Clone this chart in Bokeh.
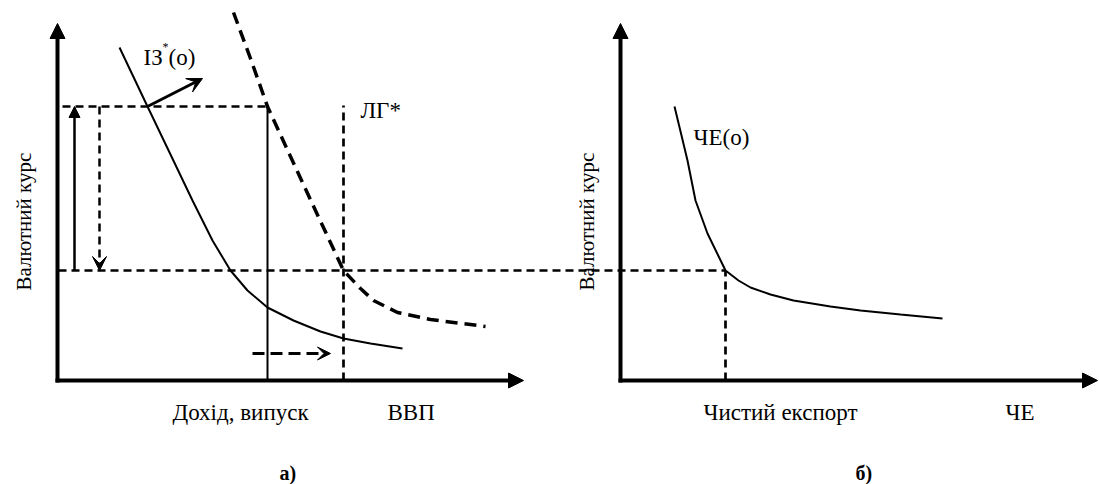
import math
from bokeh.plotting import figure
from bokeh.models import Range1d, Arrow, NormalHead, VeeHead
from bokeh.core.properties import value
from bokeh.embed import file_html
from bokeh.resources import INLINE

# ---------------- data (chart units: x = income / net exports, y = exchange rate) -------------
ORIGIN_A = 57          # y-axis position, panel а)
X_END_A = 523          # x-axis arrow tip, panel а)
ORIGIN_B = 620         # y-axis position, panel б)
X_END_B = 1097         # x-axis arrow tip, panel б)
Y_TIP = 357            # y-axis arrow tip

RATE_LEVELS = [274, 110]       # high exchange rate, equilibrium exchange rate
INCOME_LEVELS = [267, 343]     # income Y0, potential output (ЛГ*)
LG_TOP = 275
NX_EQ = 725                    # net exports at equilibrium rate

# ІЗ*(о) curve (solid)
IZ_X = [119, 147, 170, 192, 212, 230, 247, 267, 293, 320, 343, 370, 402]
IZ_Y = [333, 274, 226, 180, 140, 110, 90, 73, 60, 49, 42, 37, 32]

# shifted ІЗ* curve (dashed)
IZ2_X = [233, 250, 267, 290, 315, 343, 360, 373, 397, 430, 485]
IZ2_Y = [368, 322, 274, 224, 170, 110, 92, 80, 68, 61, 54]

# ЧЕ(о) curve
NX_X = [674, 681, 687, 695, 707, 725, 738, 750, 770, 793, 830, 860, 900, 942]
NX_Y = [274, 245, 220, 180, 147, 110, 100, 93, 86, 80, 74, 70, 66, 62]

# arrows: [x_start, y_start, x_end, y_end]
ARROW_UP = [74, 110, 74, 274]
ARROW_DOWN = [99, 274, 99, 110]
ARROW_SHIFT = [147, 274, 202, 302]
ARROW_RIGHT = [252, 27, 330, 27]

FONT = "Liberation Serif"
LABELS = [
    # text, x, y, size, bold
    ("ІЗ", 143, 323, 23, False),
    ("*", 162, 334, 12, False),
    ("(о)", 168, 323, 23, False),
    ("ЛГ*", 360, 270, 23, False),
    ("Дохід, випуск", 172, -32, 23, False),
    ("ВВП", 387, -32, 23, False),
    ("ЧЕ(о)", 693, 243, 23, False),
    ("Чистий експорт", 703, -32, 23, False),
    ("ЧЕ", 1005, -32, 23, False),
    ("а)", 279, -92, 20, True),
    ("б)", 855, -92, 20, True),
]
YLABEL = "Валютний курс"
YLABEL_POS = [(23, 90), (586, 90)]

# ---------------- figure ----------------
p = figure(width=1099, height=484, x_range=Range1d(0, 1099), y_range=Range1d(-104, 380),
           output_backend="svg", toolbar_location=None, min_border=0,
           x_axis_type=None, y_axis_type=None)
p.grid.visible = False
p.outline_line_color = None
p.background_fill_color = "white"
p.border_fill_color = "white"

DASH = "8 5"

# guide lines
p.line([ORIGIN_A + 5, INCOME_LEVELS[0]], [RATE_LEVELS[0]] * 2, line_color="black", line_width=2.7, line_dash=DASH)
p.line([ORIGIN_A + 1, NX_EQ], [RATE_LEVELS[1]] * 2, line_color="black", line_width=2.7, line_dash=DASH)
p.line([INCOME_LEVELS[0]] * 2, [0, RATE_LEVELS[0]], line_color="black", line_width=2)
p.line([INCOME_LEVELS[1]] * 2, [0, LG_TOP], line_color="black", line_width=2.7, line_dash=DASH)
p.line([NX_EQ] * 2, [0, RATE_LEVELS[1]], line_color="black", line_width=2.7, line_dash=DASH)

# curves
p.line(IZ_X, IZ_Y, line_color="black", line_width=2)
p.line(IZ2_X, IZ2_Y, line_color="black", line_width=3.5, line_dash="12 7")
p.line(NX_X, NX_Y, line_color="black", line_width=2)

# axes as arrows
for (xs, ys, xe, ye) in [(ORIGIN_A, -2, ORIGIN_A, Y_TIP), (ORIGIN_A - 2, 0, X_END_A, 0),
                         (ORIGIN_B, -2, ORIGIN_B, Y_TIP), (ORIGIN_B - 2, 0, X_END_B, 0)]:
    p.add_layout(Arrow(end=NormalHead(size=15, fill_color="black", line_color="black"),
                       x_start=xs, y_start=ys, x_end=xe, y_end=ye,
                       line_color="black", line_width=4))

p.add_layout(Arrow(end=NormalHead(size=11, fill_color="black", line_color="black"),
                   x_start=ARROW_UP[0], y_start=ARROW_UP[1], x_end=ARROW_UP[2], y_end=ARROW_UP[3],
                   line_color="black", line_width=2.5))
p.add_layout(Arrow(end=VeeHead(size=14, fill_color="black", line_color="black", line_width=1),
                   x_start=ARROW_DOWN[0], y_start=ARROW_DOWN[1], x_end=ARROW_DOWN[2], y_end=ARROW_DOWN[3],
                   line_color="black", line_width=2.5, line_dash=DASH))
p.add_layout(Arrow(end=VeeHead(size=15, fill_color="black", line_color="black", line_width=1),
                   x_start=ARROW_SHIFT[0], y_start=ARROW_SHIFT[1], x_end=ARROW_SHIFT[2], y_end=ARROW_SHIFT[3],
                   line_color="black", line_width=3))
p.add_layout(Arrow(end=VeeHead(size=13, fill_color="black", line_color="black", line_width=1),
                   x_start=ARROW_RIGHT[0], y_start=ARROW_RIGHT[1], x_end=ARROW_RIGHT[2], y_end=ARROW_RIGHT[3],
                   line_color="black", line_width=3, line_dash="12 6"))

# labels
for txt, x, y, size, bold in LABELS:
    p.text([x], [y], text=[txt], text_font=value(FONT), text_font_size=f"{size}px",
           text_font_style="bold" if bold else "normal", text_color="black",
           text_align="left", text_baseline="alphabetic")

for (x, y) in YLABEL_POS:
    p.text([x], [y], text=[YLABEL], angle=math.pi / 2, text_font=value(FONT), text_font_size="21px",
           text_color="black", text_align="left", text_baseline="alphabetic")

open("out.html", "w").write(file_html(p, INLINE))
